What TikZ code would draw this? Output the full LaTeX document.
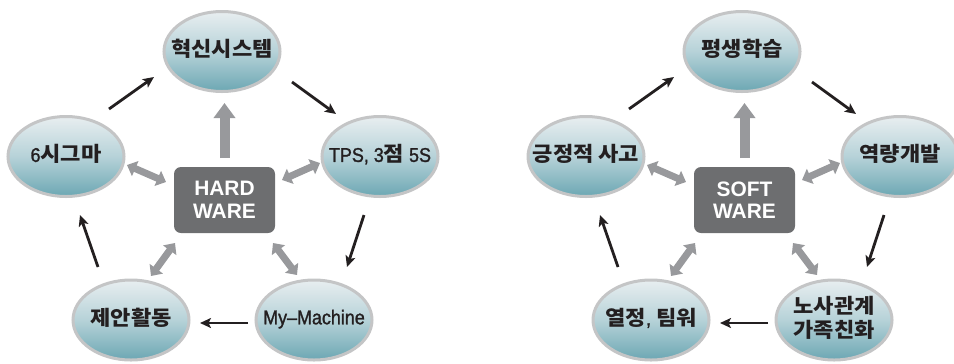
\documentclass[tikz,border=0pt]{standalone}
\usepackage{fontspec}
\setmainfont{Liberation Sans}
\newfontfamily\kor{Noto Sans CJK KR}[FakeStretch=1.08]
\newfontfamily\latf{Liberation Sans}[FakeStretch=0.9,FakeBold=1.3]
\usetikzlibrary{shapes.geometric,arrows.meta}
\definecolor{bubtop}{HTML}{E8EEF0}
\definecolor{bubmid}{HTML}{B6D2D8}
\definecolor{bubbot}{HTML}{6CA7B3}
\definecolor{bubline}{HTML}{C4C5C6}
\definecolor{coregray}{HTML}{6D6E70}
\definecolor{arrgray}{HTML}{98999C}
\definecolor{arrblack}{HTML}{231F20}
\newcommand\ctr[1]{\makebox[0pt]{\begin{tabular}{@{}c@{}}#1\end{tabular}}}
\newcommand\lat[1]{{\latf\mdseries\fontsize{20}{21.5}\selectfont #1}}
\tikzset{
  bubble/.style={ellipse, draw=bubline, line width=3bp, top color=bubtop, bottom color=bubbot, middle color=bubmid,
    minimum width=116bp, minimum height=80bp, inner sep=0pt, text=arrblack,
    font=\kor\bfseries\fontsize{20.5}{21.5}\selectfont},
  core/.style={rectangle, rounded corners=7bp, fill=coregray, minimum width=101bp, minimum height=66bp,
    inner sep=0pt, text=white, align=center, font=\bfseries\fontsize{21}{22.5}\selectfont},
  flow/.style={draw=arrblack, line width=2.8bp, -{Stealth[length=11bp,width=10bp,inset=2.5bp]}},
  link/.style={draw=arrgray, line width=7bp, {Triangle[width=16bp,length=9bp]}-{Triangle[width=16bp,length=9bp]}},
  rise/.style={draw=arrgray, line width=10bp, -{Triangle[width=21bp,length=15bp]}}
}
\newcommand\cyclediagram[6]{%
  \node[bubble] (t)  at (222,51.5)  {\ctr{#1}};
  \node[bubble] (l)  at (66,156.5)  {\ctr{#2}};
  \node[bubble] (r)  at (380,156.5) {\ctr{#3}};
  \node[bubble] (bl) at (131,320)   {\ctr{#4}};
  \node[bubble] (br) at (314,320)   {\ctr{#5}};
  \node[core]   (c)  at (224.5,200) {#6};
  % free ends of the connectors
  \coordinate (a1s) at (109,109); \coordinate (a1e) at (154,77);
  \coordinate (a2s) at (292,82);  \coordinate (a2e) at (336,114);
  \coordinate (a3s) at (364,215); \coordinate (a3e) at (347,267);
  \coordinate (a4s) at (248,323); \coordinate (a4e) at (200,323);
  \coordinate (a5s) at (98,267);  \coordinate (a5e) at (80,215);
  \coordinate (us)  at (224.5,158); \coordinate (ue) at (224.5,103);
  \coordinate (gls) at (166,182); \coordinate (gle) at (127,165);
  \coordinate (grs) at (282,180); \coordinate (gre) at (320,163);
  \coordinate (gbls) at (175,243); \coordinate (gble) at (151,276);
  \coordinate (gbrs) at (273,243); \coordinate (gbre) at (297,275);
  \draw[flow] (a1s) -- (a1e);
  \draw[flow] (a2s) -- (a2e);
  \draw[flow] (a3s) -- (a3e);
  \draw[flow] (a4s) -- (a4e);
  \draw[flow] (a5s) -- (a5e);
  \draw[rise] (us) -- (ue);
  \draw[link] (gls) -- (gle);
  \draw[link] (grs) -- (gre);
  \draw[link] (gbls) -- (gble);
  \draw[link] (gbrs) -- (gbre);
}
\begin{document}
\begin{tikzpicture}[x=1bp,y=-1bp]
  \useasboundingbox (0,0) rectangle (954,363);
  \clip (0,0) rectangle (954,363);
  \begin{scope}[name prefix=L-]
    \cyclediagram{혁신시스템}{\lat{6}시그마}{\lat{TPS, 3}점\lat{ 5S}}{제안활동}{\lat{My–Machine}}{HARD\\WARE}
  \end{scope}
  \begin{scope}[xshift=520bp, name prefix=R-]
    \cyclediagram{평생학습}{긍정적 사고}{역량개발}{열정\lat{,} 팀워}{노사관계\\가족친화}{SOFT\\WARE}
  \end{scope}
\end{tikzpicture}
\end{document}
